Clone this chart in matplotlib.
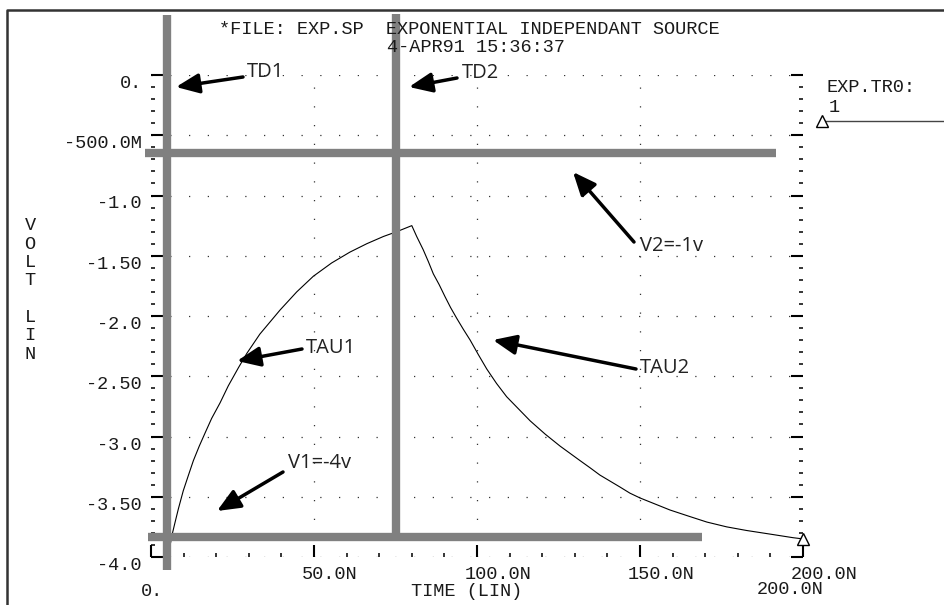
import matplotlib
matplotlib.use("Agg")
import matplotlib.pyplot as plt
import matplotlib.transforms as mtransforms
from matplotlib.lines import Line2D

# transient trace: time in ns, voltage in V
time_ns = [0.0, 5.0, 5.8, 6.6, 7.4, 8.4, 9.9, 11.5, 13.0, 14.8, 16.6, 18.6,
           21.2, 23.7, 26.8, 29.4, 33.4, 36.5, 39.6, 44.7, 49.8, 55.4, 61.0,
           66.2, 71.3, 75.4, 80.0,
           81.5, 83.5, 85.1, 86.6, 88.4, 90.2, 91.9, 93.8, 95.8, 97.9, 100.4,
           103.0, 106.0, 109.1, 112.7, 116.3, 120.9, 125.5, 131.6, 134.7,
           137.7, 140.8, 143.9, 146.9, 150.0, 154.6, 159.2, 164.8, 170.5,
           176.6, 182.7, 189.9, 197.0, 200.0]
volts = [-4.0, -4.0, -3.91, -3.80, -3.71, -3.60, -3.45, -3.32, -3.20, -3.08,
         -2.97, -2.85, -2.72, -2.58, -2.43, -2.31, -2.15, -2.05, -1.95, -1.80,
         -1.67, -1.56, -1.47, -1.40, -1.34, -1.30, -1.25,
         -1.34, -1.45, -1.55, -1.65, -1.74, -1.84, -1.93, -2.02, -2.11, -2.20,
         -2.32, -2.44, -2.56, -2.67, -2.77, -2.87, -2.98, -3.08, -3.20, -3.26,
         -3.32, -3.37, -3.42, -3.47, -3.51, -3.56, -3.61, -3.66, -3.71,
         -3.75, -3.78, -3.81, -3.84, -3.85]

x_ticks = [0, 50, 100, 150, 200]
x_labels = ["", "50.0N", "100.0N", "150.0N", "200.0N"]
y_ticks = [0, -0.5, -1.0, -1.5, -2.0, -2.5, -3.0, -3.5, -4.0]
y_labels = ["0.", "-500.0M", "-1.0", "-1.50", "-2.0", "-2.50", "-3.0", "-3.50", "-4.0"]

# hand-drawn markers for the source parameters (ns / V)
td1, td2 = 4.9, 75.2
v1_mark, v2_mark = -3.83, -0.647

MONO = ["Liberation Mono", "DejaVu Sans Mono"]
SANS = ["Open Sans", "DejaVu Sans"]
INK = "#1a1a1a"
W, H = 944, 605

fig = plt.figure(figsize=(W / 100, H / 100), dpi=100)
ax = fig.add_axes([151 / W, 48 / H, 652 / W, 482 / H])


def px(x, y):
    # pixel position (from top-left) -> figure fraction
    return (x / W, 1 - y / H)


ax.plot(time_ns, volts, color="black", lw=0.8, zorder=3)
ax.plot(time_ns[-1], volts[-1], marker="^", ms=8, mfc="white", mec="black",
        mew=1.0, clip_on=False, zorder=4)

ax.set_xlim(0, 200)
ax.set_ylim(-4.0, 0)
for s in ax.spines.values():
    s.set_visible(False)

ax.set_xticks(x_ticks)
ax.set_xticklabels(x_labels, family=MONO, fontsize=13.4, color=INK)
ax.set_xticks(range(0, 201, 10), minor=True)
ax.set_yticks(y_ticks)
ax.set_yticklabels(y_labels, family=MONO, fontsize=13.4, color=INK)
ax.set_yticks([-i / 10 for i in range(41)], minor=True)
ax.tick_params(which="major", direction="in", length=8.6, width=1.5,
               left=True, right=True, bottom=True, top=False, pad=6.5)
ax.tick_params(which="minor", direction="in", length=3, width=1.1,
               left=True, right=True, bottom=True, top=False)

shift = mtransforms.ScaledTranslation(-12 / 100, 0, fig.dpi_scale_trans)
for lab in ax.get_xticklabels():
    lab.set_horizontalalignment("left")
    lab.set_transform(lab.get_transform() + shift)
for lab in ax.get_yticklabels():
    lab.set_verticalalignment("top")

ax.grid(True, which="major", color="#333333", lw=0.9, ls=(0, (1, 14)))
gl = ax.xaxis.get_gridlines()
gl[0].set_visible(False)
gl[-1].set_visible(False)

# thick grey marker lines
grey = dict(color="#808080", lw=6, solid_capstyle="butt", clip_on=False, zorder=5)
ax.plot([td1, td1], [0.50, -4.11], **grey)
ax.plot([td2, td2], [0.51, -3.83], **grey)
ax.plot([-1.8, 191.7], [v2_mark, v2_mark], **grey)
ax.plot([-0.9, 169.0], [v1_mark, v1_mark], **grey)

# arrows and their labels
arrows = [
    ("TD1", (247, 72), (243, 77), (176, 87)),
    ("TD2", (462, 73), (457, 78), (409, 87)),
    ("V2=-1v", (640, 246), (634, 242), (573, 172)),
    ("TAU1", (306, 348), (302, 349), (237, 361)),
    ("TAU2", (640, 368), (636, 369), (493, 340)),
    ("V1=-4v", (288, 463), (283, 472), (217, 511)),
]
for label, tpos, tail, tip in arrows:
    fig.text(*px(*tpos), label, family=SANS, fontsize=14.5, ha="left",
             va="center", color="#222222")
    ax.annotate("", xy=px(*tip), xycoords="figure fraction",
                xytext=px(*tail), textcoords="figure fraction",
                arrowprops=dict(arrowstyle="-|>,head_length=0.7,head_width=0.3",
                                lw=2.5, color="black", mutation_scale=20,
                                shrinkA=0, shrinkB=0))

# header and axis captions
fig.text(*px(219, 30), "*FILE: EXP.SP  EXPONENTIAL INDEPENDANT SOURCE",
         family=MONO, fontsize=13.4, ha="left", va="center", color=INK)
fig.text(*px(387, 47.5), "4-APR91 15:36:37", family=MONO, fontsize=13.4,
         ha="left", va="center", color=INK)
fig.text(*px(30, 290), "V\nO\nL\nT\n\nL\nI\nN", family=MONO, fontsize=13.4,
         ha="center", va="center", linespacing=1.1, color=INK)
fig.text(*px(141, 592), "0.", family=MONO, fontsize=13.4, ha="left",
         va="center", color=INK)
fig.text(*px(411, 592), "TIME (LIN)", family=MONO, fontsize=13.4, ha="left",
         va="center", color=INK)
fig.text(*px(757, 589), "200.0N", family=MONO, fontsize=13.4, ha="left",
         va="center", color=INK)

# trace legend
fig.text(*px(827, 87), "EXP.TR0:", family=MONO, fontsize=13.4, ha="left",
         va="center", color=INK)
fig.text(*px(829, 108), "1", family=MONO, fontsize=13.4, ha="left",
         va="center", color=INK)
fig.add_artist(Line2D([822 / W, 1.0], [1 - 121 / H] * 2, color="#444444", lw=1.0))
fig.add_artist(Line2D([822 / W], [1 - 121 / H], marker="^", ms=8, mfc="white",
                      mec="black", mew=1.0))

# page frame
fig.add_artist(Line2D([7 / W, 7 / W, 1.0], [0.0, 1 - 10 / H, 1 - 10 / H],
                      color="#333333", lw=1.8))

fig.savefig("out.png", dpi=100)
